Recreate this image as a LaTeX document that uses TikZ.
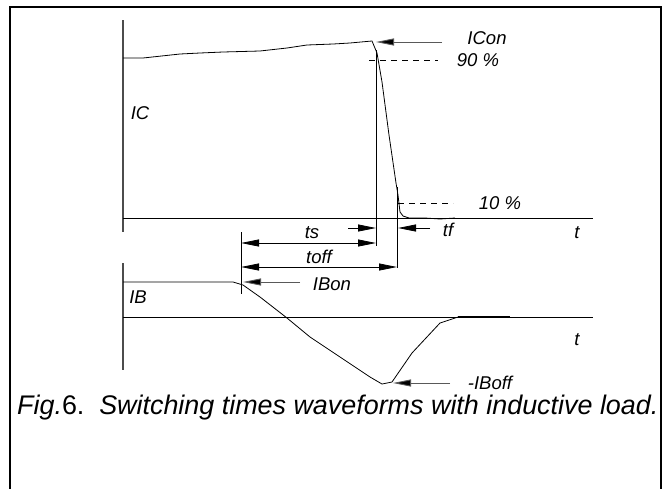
\documentclass[tikz,border=0pt]{standalone}
\usepackage{fontspec}
\setmainfont{Liberation Sans}
\usetikzlibrary{arrows.meta}
\begin{document}
\begin{tikzpicture}[x=1pt,y=-1pt,
  axisline/.style={draw=black!70, line width=1.4pt},
  wave/.style={draw=black, line width=0.8pt},
  dimline/.style={draw=black, line width=0.8pt},
  tipr/.style={-{Triangle[length=18pt,width=7pt]}},
  tipb/.style={{Triangle[length=18pt,width=7pt]}-{Triangle[length=18pt,width=7pt]}},
  pointer/.style={draw=black!65, line width=0.9pt, -{Triangle[length=18pt,width=7pt,fill=black]}},
  level/.style={draw=black, line width=0.7pt, dash pattern=on 6pt off 5pt},
  lab/.style={font=\fontsize{18.5}{18.5}\selectfont\itshape, inner sep=0pt},
  frame/.style={draw=black, line width=2.6pt}
  ]
\useasboundingbox (0,0) rectangle (669,488);
\clip (0,0) rectangle (669,488);
\fill[white] (0,0) rectangle (669,488);
\draw[frame] (10,7) rectangle (661,500);

% axes
\coordinate (icTop) at (123,20);
\coordinate (icBot) at (123,232);
\coordinate (icZ0) at (123,218);
\coordinate (icZ1) at (593,218);
\draw[axisline] (icTop) -- (icBot);
\draw[dimline] (icZ0) -- (icZ1);
\coordinate (ibTop) at (123,263);
\coordinate (ibBot) at (123,370);
\coordinate (ibZ0) at (123,317);
\coordinate (ibZ1) at (593,317);
\draw[axisline] (ibTop) -- (ibBot);
\draw[dimline] (ibZ0) -- (ibZ1);

% IC waveform
\draw[wave] (123,58) -- (143,58) -- (180,54) -- (200,53) -- (223,52) -- (260,51)
  -- (287,48) -- (307,45) -- (333,44) -- (350,43) -- (372,41)
  -- (377,53) -- (382,82) -- (389,135) -- (396,183) -- (398,195) -- (400,212)
  -- (403,216) -- (409,218) -- (425,218) -- (440,219) -- (455,218);

% IB waveform
\draw[wave] (123,282) -- (233,282) -- (243,285) -- (260,297) -- (287,318) -- (310,337)
  -- (340,357) -- (370,377) -- (382,384) -- (392,382) -- (412,353) -- (440,323)
  -- (458,317);
\draw[line width=1.4pt] (458,317) -- (510,317);

% vertical reference lines
\coordinate (vA0) at (241,232); \coordinate (vA1) at (241,294);
\coordinate (vB0) at (376,50);  \coordinate (vB1) at (376,246);
\coordinate (vC0) at (397,187); \coordinate (vC1) at (397,268);
\draw[dimline] (vA0) -- (vA1);
\draw[dimline] (vB0) -- (vB1);
\draw[dimline] (vC0) -- (vC1);

% levels
\coordinate (l90a) at (369,60); \coordinate (l90b) at (438,60);
\coordinate (l10a) at (398,203); \coordinate (l10b) at (453,203);
\draw[level] (l90a) -- (l90b);
\draw[level] (l10a) -- (l10b);

% dimension arrows
\coordinate (tsA) at (241,243); \coordinate (tsB) at (376,243);
\coordinate (toA) at (241,267); \coordinate (toB) at (397,267);
\draw[dimline, tipb] (tsA) -- (tsB);
\draw[dimline, tipb] (toA) -- (toB);
\coordinate (tfL0) at (348,228); \coordinate (tfL1) at (376,228);
\coordinate (tfR0) at (430,228); \coordinate (tfR1) at (398,228);
\draw[dimline, tipr] (tfL0) -- (tfL1);
\draw[dimline, tipr] (tfR0) -- (tfR1);

% pointers
\coordinate (iconA) at (442,42); \coordinate (iconB) at (376,42);
\draw[pointer] (iconA) -- (iconB);
\coordinate (ibonA) at (300,282); \coordinate (ibonB) at (243,282);
\draw[pointer] (ibonA) -- (ibonB);
\coordinate (iboffA) at (450,383); \coordinate (iboffB) at (393,383);
\draw[pointer] (iboffA) -- (iboffB);

% labels
\node[lab] (tIC) at (140,113) {IC};
\node[lab] (tIB) at (138,297) {IB};
\node[lab] (tICon) at (487,38) {ICon};
\node[lab] (t90) at (478,60) {90 \%};
\node[lab] (t10) at (500,203) {10 \%};
\node[lab] (ttf) at (448,230) {tf};
\node[lab] (tt1) at (577,233) {t};
\node[lab] (tts) at (312,233) {ts};
\node[lab] (ttoff) at (319,257) {toff};
\node[lab] (tIBon) at (332,284) {IBon};
\node[lab] (tt2) at (577,340) {t};
\node[lab] (tIBoff) at (490,383) {-IBoff};

% caption
\node[anchor=base west, inner sep=0pt, font=\fontsize{26.9}{26.9}\selectfont] (cap) at (17,414)
  {\itshape Fig.\upshape6.\hspace{0.55em}\itshape Switching times waveforms with inductive load.};
\end{tikzpicture}
\end{document}
